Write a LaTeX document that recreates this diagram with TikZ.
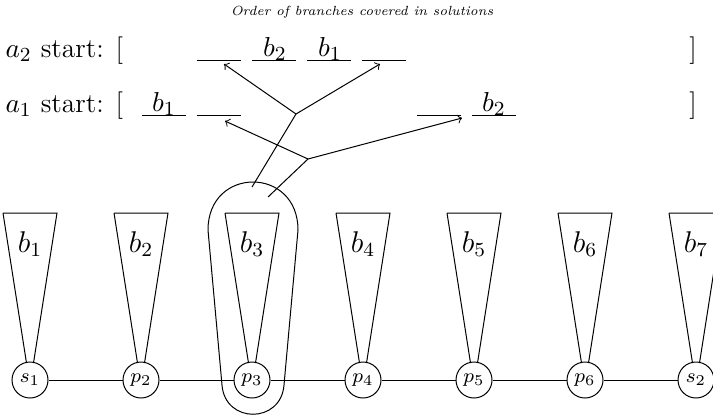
\documentclass[tikz,border=0pt]{standalone}
\begin{document}
\begin{tikzpicture}[x=0.4pt,y=-0.4pt,
  vtx/.style={circle,draw,minimum size=14.4pt,inner sep=0pt,font=\footnotesize},
  row/.style={anchor=base west,inner sep=0pt,font=\fontsize{11}{13}\selectfont},
  slotlab/.style={anchor=base,inner sep=0pt,font=\fontsize{11}{13}\selectfont},
  tri/.style={draw},
  arr/.style={->}]
\useasboundingbox (0,0) rectangle (713,415);
\node[inner sep=0pt,font=\fontsize{5.3}{6.5}\selectfont\itshape] (title) at (362,12) {Order of branches covered in solutions};
% rows
\node[row] (a2) at (5,57) {$a_2$ start: [};
\node[anchor=base,inner sep=0pt,font=\fontsize{11}{13}\selectfont] (a2end) at (693,57) {]};
\node[row] (a1) at (5,112) {$a_1$ start: [};
\node[anchor=base,inner sep=0pt,font=\fontsize{11}{13}\selectfont] (a1end) at (693,112) {]};
% slots: left = 142+55k, width 44
\foreach \k/\yy in {1/60,2/60,3/60,4/60,0/115,1/115,5/115,6/115}{
  \draw (142+55*\k,\yy) -- (186+55*\k,\yy);
}
\node[slotlab] (a2b2) at (275,56) {$b_2$};
\node[slotlab] (a2b1) at (330,56) {$b_1$};
\node[slotlab] (a1b1) at (164,111) {$b_1$};
\node[slotlab] (a1b2) at (494,111) {$b_2$};
% vertices
\foreach \n/\lab/\i in {s1/s_1/0,p2/p_2/1,p3/p_3/2,p4/p_4/3,p5/p_5/4,p6/p_6/5,s2/s_2/6}{
  \node[vtx] (\n) at (30+111*\i,380) {$\lab$};
  \draw[tri] (3+111*\i,213) -- (57+111*\i,213) -- (33.5+111*\i,363) (3+111*\i,213) -- (26.5+111*\i,363);
  \node[font=\large] (b\i) at (30+111*\i,244) {$b_{\the\numexpr\i+1\relax}$};
}
\draw (s1) -- (p2) -- (p3) -- (p4) -- (p5) -- (p6) -- (s2);
% loop around p3
\draw (208,230) .. controls (208,166) and (298,166) .. (298,230) -- (284,385) .. controls (281,424) and (225,424) .. (222,385) -- cycle;
% branching arrows
\coordinate (u0) at (252,187);
\coordinate (u1) at (296,114);
\coordinate (uL) at (224,64);
\coordinate (uR) at (380,64);
\coordinate (l0) at (268,197);
\coordinate (l1) at (308,159);
\coordinate (lL) at (225,121);
\coordinate (lR) at (462,118);
\draw (u0) -- (u1);
\draw[arr] (u1) -- (uL);
\draw[arr] (u1) -- (uR);
\draw (l0) -- (l1);
\draw[arr] (l1) -- (lL);
\draw[arr] (l1) -- (lR);
\end{tikzpicture}
\end{document}
